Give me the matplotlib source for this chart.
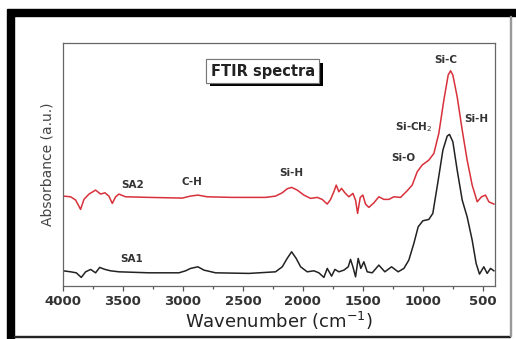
import matplotlib.pyplot as plt
from matplotlib import patheffects
from matplotlib.patches import Rectangle
from matplotlib.ticker import MultipleLocator

# SA2 (red, upper trace): wavenumber (cm^-1) and absorbance (a.u.)
sa2_wn = [3997, 3936, 3894, 3853, 3825, 3783, 3728, 3686, 3650, 3617,
          3589, 3561, 3533, 3478, 3283, 3006, 2936, 2875, 2797, 2589,
          2311, 2228, 2172, 2131, 2094, 2047, 1992, 1936, 1881, 1839,
          1797, 1769, 1742, 1722, 1700, 1678, 1650, 1617, 1583, 1561,
          1544, 1522, 1500, 1478, 1450, 1408, 1367, 1325, 1283, 1242,
          1186, 1131, 1089, 1047, 1006, 950, 908, 867, 825, 789,
          769, 750, 714, 672, 631, 589, 547, 511, 478, 450, 408]
sa2_abs = [90, 89.3, 86, 76.7, 86.7, 92, 96, 92, 93.3, 90,
           82.7, 89.3, 92, 89.3, 88.7, 88, 90, 91, 89.3, 88.7,
           88.7, 90, 93.3, 97.3, 98.7, 96, 91, 87.7, 88.7, 86.7,
           82, 86.7, 94.3, 101, 94.3, 97.7, 93.3, 89.3, 92.7, 86,
           72.7, 88.7, 91, 82, 78.7, 83.3, 89.3, 86.7, 86.7, 89.3,
           88.7, 95.3, 101, 114.3, 121, 126, 132.7, 152.7, 186, 211,
           215.3, 211, 189.3, 156, 126, 101, 84.3, 89.3, 91, 84.3, 82]

# SA1 (black, lower trace)
sa1_wn = [3997, 3936, 3889, 3847, 3811, 3769, 3728, 3694, 3650, 3603,
          3533, 3283, 3033, 2978, 2936, 2875, 2825, 2728, 2450, 2228,
          2172, 2131, 2094, 2056, 2019, 1964, 1908, 1867, 1825, 1797,
          1761, 1733, 1700, 1658, 1622, 1603, 1583, 1561, 1539, 1517,
          1492, 1464, 1422, 1367, 1317, 1261, 1206, 1158, 1117, 1075,
          1039, 1000, 950, 917, 872, 833, 797, 778, 750, 714,
          672, 631, 589, 556, 528, 492, 464, 436, 408]
sa1_abs = [15.3, 14.3, 13.3, 8.7, 14.3, 16.7, 13.3, 18.7, 16.7, 15.3,
           14.3, 13.3, 13.3, 15.3, 17.7, 19.3, 16, 13.3, 12.7, 14.3,
           19.3, 27.7, 34.3, 27.7, 19.3, 14.3, 15.3, 13.3, 8.7, 17.7,
           10, 16.7, 14.3, 16, 19.3, 26.7, 19.3, 9.3, 27.7, 17.7,
           24.3, 14.3, 13.3, 21, 14.3, 19.3, 14.3, 17.7, 26, 42.7,
           59.3, 65.3, 66.7, 72.7, 106, 136, 150, 151.7, 144.3, 116,
           86, 69.3, 46, 22.7, 12, 19.3, 12.7, 17.7, 15.3]

# peak assignments: text, wavenumber, absorbance
peak_labels = ["SA2", "C-H", "Si-H", "Si-O", r"Si-CH$_2$", "Si-C", "Si-H", "SA1"]
peak_wn = [3420, 2925, 2100, 1167, 1075, 808, 558, 3425]
peak_y = [101, 104, 113, 128, 159, 226, 167, 27]

fig = plt.figure(figsize=(5.16, 3.39), dpi=100)
ax = fig.add_axes([0.122, 0.156, 0.837, 0.717])

ax.plot(sa2_wn, sa2_abs, color="#d8313b", linewidth=1.1)
ax.plot(sa1_wn, sa1_abs, color="#222222", linewidth=1.1)

for txt, x, y in zip(peak_labels, peak_wn, peak_y):
    ax.text(x, y, txt, ha="center", va="center", fontsize=7.5,
            fontweight="bold", color="#333333")

box = ax.text(0.463, 0.885, "FTIR spectra", transform=ax.transAxes,
              ha="center", va="center", fontsize=10.5, fontweight="bold",
              color="#222222",
              bbox=dict(boxstyle="square,pad=0.3", fc="white", ec="#777777",
                        lw=0.8))
box.get_bbox_patch().set_path_effects([
    patheffects.withSimplePatchShadow(offset=(2.5, -2.5), shadow_rgbFace="k",
                                      alpha=1.0),
    patheffects.Normal(),
])

ax.set_xlim(4000, 400)
ax.set_ylim(0, 243)
ax.xaxis.set_major_locator(MultipleLocator(500))
ax.xaxis.set_minor_locator(MultipleLocator(250))
ax.set_yticks([])
ax.tick_params(axis="x", which="major", direction="out", length=3.5,
               width=0.9, color="#555555", labelsize=9.5, labelcolor="#333333",
               pad=3)
ax.tick_params(axis="x", which="minor", direction="out", length=2,
               width=0.9, color="#555555")
for lbl in ax.get_xticklabels():
    lbl.set_fontweight("bold")
for sp in ax.spines.values():
    sp.set_color("#666666")
    sp.set_linewidth(0.9)

ax.set_xlabel(r"Wavenumber (cm$^{-1}$)", fontsize=13, color="#222222",
              labelpad=1)
ax.set_ylabel("Absorbance (a.u.)", fontsize=10, color="#444444", labelpad=6)

# outer picture frame
fig.patches.append(Rectangle((7 / 516, 0), 7 / 516, 1 - 16 / 339,
                             transform=fig.transFigure, color="black"))
fig.patches.append(Rectangle((7 / 516, 1 - 16 / 339), 1 - 7 / 516, 7 / 339,
                             transform=fig.transFigure, color="black"))
fig.patches.append(Rectangle((14 / 516, 2 / 339), 496 / 516, 1.5 / 339,
                             transform=fig.transFigure, color="#222222"))
fig.patches.append(Rectangle((509.5 / 516, 3 / 339), 1.2 / 516, 320 / 339,
                             transform=fig.transFigure, color="#999999"))

fig.savefig("out.png", dpi=100)
